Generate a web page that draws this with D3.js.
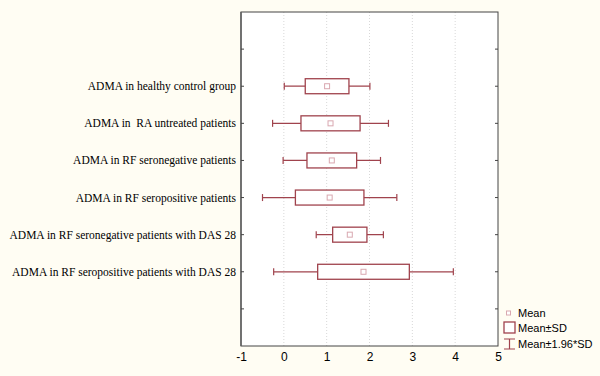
<!DOCTYPE html>
<html lang="en">
  <head>
    <meta charset="utf-8">
    <title>ADMA</title>
    <script src="https://cdn.jsdelivr.net/npm/d3@7"></script>
    <style>
      body { margin:0; background:#fffdf3; }
      .cat { font-family:"Liberation Serif", serif; font-size:11.5px; fill:#000; }
      .tick text { font-family:"Liberation Sans", Arial, sans-serif; font-size:12px; fill:#000; }
      .legend { font-family:"Liberation Sans", Arial, sans-serif; font-size:11px; fill:#000; }
      .box { fill:#fff; stroke:#a0434d; stroke-width:1.3; }
      .whisk { stroke:#a0434d; stroke-width:1.2; fill:none; }
      .mean { fill:#fff; stroke:#d9a8b0; stroke-width:1; }
    </style>
  </head>
  <body>
    <script>
      // groups, top to bottom
      var groups = [
        "ADMA in healthy control group",
        "ADMA in  RA untreated patients",
        "ADMA in RF seronegative patients",
        "ADMA in RF seropositive patients",
        "ADMA in RF seronegative patients with DAS 28",
        "ADMA in RF seropositive patients with DAS 28"
      ];
      var means = [1.01, 1.09, 1.12, 1.07, 1.54, 1.86];
      var sds   = [0.51, 0.69, 0.58, 0.80, 0.40, 1.07];
      var xTicks = [-1, 0, 1, 2, 3, 4, 5];
      var legendLabels = ["Mean", "Mean\u00B1SD", "Mean\u00B11.96*SD"];

      var w = 600, h = 376;
      var pL = 241, pR = 498, pT = 12, pB = 346;

      var svg = d3.select("body").append("svg")
                  .attr("width", w)
                  .attr("height", h);

      var x = d3.scaleLinear().domain([-1, 5]).range([pL, pR]);
      var y = d3.scaleLinear().domain([0, 9]).range([pT, pB]);

      svg.append("rect")
         .attr("x", pL).attr("y", pT)
         .attr("width", pR - pL).attr("height", pB - pT)
         .attr("fill", "#fff");

      // dotted grid
      svg.selectAll(".grid")
         .data(xTicks.slice(1, -1))
         .enter().append("line")
         .attr("x1", function(d) { return x(d); })
         .attr("x2", function(d) { return x(d); })
         .attr("y1", pT).attr("y2", pB)
         .attr("stroke", "#d8d8d8")
         .attr("stroke-dasharray", "1,2");

      // frame
      svg.append("rect")
         .attr("x", pL).attr("y", pT)
         .attr("width", pR - pL).attr("height", pB - pT)
         .attr("fill", "none")
         .attr("stroke", "#444")
         .attr("stroke-width", 1);
      svg.append("line")
         .attr("x1", pL).attr("x2", pL)
         .attr("y1", pT).attr("y2", pB)
         .attr("stroke", "#666").attr("stroke-width", 1.6);

      // y ticks inward both sides
      var yPos = d3.range(1, 9);
      svg.selectAll(".ytl")
         .data(yPos).enter().append("line")
         .attr("x1", pL).attr("x2", pL + 3)
         .attr("y1", function(d) { return y(d); })
         .attr("y2", function(d) { return y(d); })
         .attr("stroke", "#444");
      svg.selectAll(".ytr")
         .data(yPos).enter().append("line")
         .attr("x1", pR - 3).attr("x2", pR)
         .attr("y1", function(d) { return y(d); })
         .attr("y2", function(d) { return y(d); })
         .attr("stroke", "#444");

      // x axis labels
      var xAxis = d3.axisBottom(x)
                    .tickValues(xTicks)
                    .tickSize(0)
                    .tickPadding(6)
                    .tickFormat(d3.format("d"));
      var gx = svg.append("g")
         .attr("transform", "translate(0," + pB + ")")
         .call(xAxis);
      gx.select(".domain").remove();
      gx.selectAll("text").text(function(d) { return d < 0 ? "-" + Math.abs(d) : d; });

      // category labels
      svg.selectAll(".cat")
         .data(groups).enter().append("text")
         .attr("class", "cat")
         .attr("x", 236)
         .attr("y", function(d, i) { return y(i + 2); })
         .attr("dy", "0.35em")
         .attr("text-anchor", "end")
         .style("white-space", "pre")
         .text(function(d) { return d; });

      var bh = 15, ch = 7;
      var rows = svg.selectAll(".row")
         .data(groups).enter().append("g")
         .attr("transform", function(d, i) { return "translate(0," + y(i + 2) + ")"; });

      rows.append("line").attr("class", "whisk")
          .attr("x1", function(d, i) { return x(means[i] - 1.96 * sds[i]); })
          .attr("x2", function(d, i) { return x(means[i] + 1.96 * sds[i]); });
      rows.append("line").attr("class", "whisk")
          .attr("x1", function(d, i) { return x(means[i] - 1.96 * sds[i]); })
          .attr("x2", function(d, i) { return x(means[i] - 1.96 * sds[i]); })
          .attr("y1", -ch / 2).attr("y2", ch / 2);
      rows.append("line").attr("class", "whisk")
          .attr("x1", function(d, i) { return x(means[i] + 1.96 * sds[i]); })
          .attr("x2", function(d, i) { return x(means[i] + 1.96 * sds[i]); })
          .attr("y1", -ch / 2).attr("y2", ch / 2);
      rows.append("rect").attr("class", "box")
          .attr("x", function(d, i) { return x(means[i] - sds[i]); })
          .attr("width", function(d, i) { return x(means[i] + sds[i]) - x(means[i] - sds[i]); })
          .attr("y", -bh / 2).attr("height", bh);
      rows.append("rect").attr("class", "mean")
          .attr("x", function(d, i) { return x(means[i]) - 2.5; })
          .attr("y", -2.5).attr("width", 5).attr("height", 5);

      // legend
      var lg = svg.append("g").attr("transform", "translate(504,0)");
      lg.append("rect").attr("class", "mean")
        .attr("x", 2.5).attr("y", 311).attr("width", 4).attr("height", 4);
      lg.append("rect").attr("class", "box")
        .attr("x", 0).attr("y", 322).attr("width", 11).attr("height", 11);
      lg.append("path").attr("class", "whisk")
        .attr("d", "M0,339H11M5.5,339V349M0,349H11");
      lg.selectAll(".legend")
        .data(legendLabels).enter().append("text")
        .attr("class", "legend")
        .attr("x", 14)
        .attr("y", function(d, i) { return [313, 328, 344][i]; })
        .attr("dy", "0.35em")
        .text(function(d) { return d; });
    </script>
  </body>
</html>
